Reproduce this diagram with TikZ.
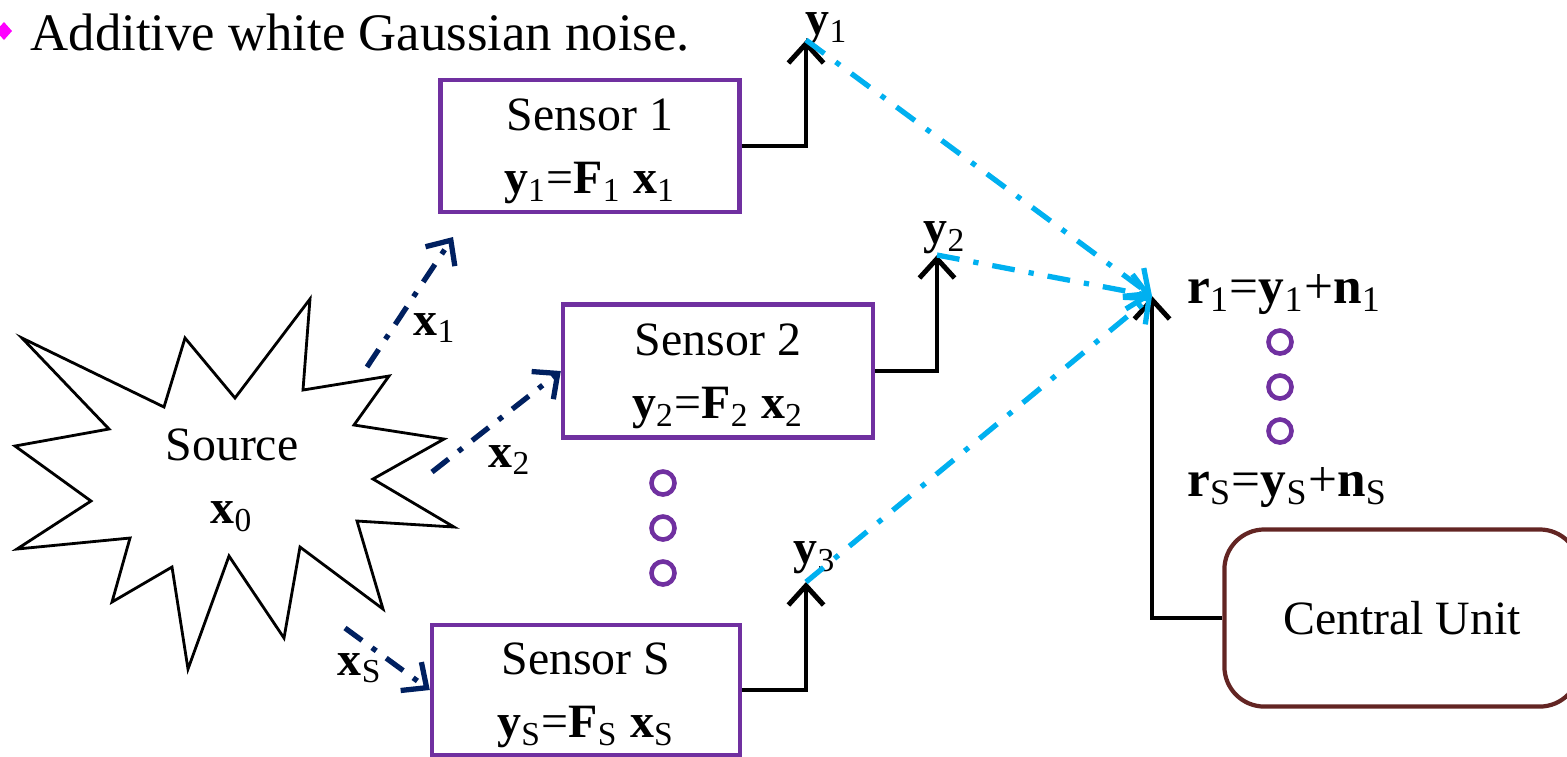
\documentclass[tikz,border=0pt]{standalone}
\usepackage{fontspec}
\setmainfont{Liberation Serif}
\usetikzlibrary{arrows.meta,positioning}
\definecolor{sensorline}{HTML}{7030A0}
\definecolor{relay}{HTML}{00B0F0}
\definecolor{signal}{HTML}{002060}
\definecolor{unitline}{HTML}{632523}
\definecolor{bulletcol}{HTML}{FF00FF}
\newcommand{\bv}[2]{\textbf{#1}\textsubscript{#2}}

\begin{document}
\begin{tikzpicture}[x=0.01cm, y=-0.01cm, font=\fontsize{13.6}{18}\selectfont, >={Straight Barb[length=5.5pt,width=10pt]}]
  \tikzset{
    sensor/.style={draw=sensorline, line width=1.2pt, minimum height=1.32cm, align=center, text depth=0pt},
    xlink/.style={->, signal, line width=1.5pt, dash pattern=on 6pt off 3.5pt on 1.5pt off 3.5pt},
    ylink/.style={->, relay, line width=1.5pt, dash pattern=on 6.5pt off 4pt on 1.5pt off 4pt},
    feed/.style={->, line width=1.4pt},
    gap/.style={circle, draw=sensorline, line width=1.3pt, minimum size=0.23cm, inner sep=0pt},
    rlabel/.style={anchor=west, font=\fontsize{14.6}{18}\selectfont}
  }
  \useasboundingbox (0,0) rectangle (1567,756);

  % bullet line
  \fill[bulletcol] (4,22) -- (12,31) -- (4,40) -- (-4,31) -- cycle;
  \node[anchor=base west, inner sep=0pt, font=\fontsize{15}{18}\selectfont] (title) at (30,50) {Additive white Gaussian noise.};

  % source burst
  \draw[line width=0.8pt] (22,338) -- (164,407) -- (185,338) -- (235,398) -- (310,299)
    -- (303,390) -- (389,376) -- (354,425) -- (444,439) -- (373,479) -- (454,527)
    -- (357,521) -- (383,609) -- (300,547) -- (284,638) -- (229,556) -- (188,669)
    -- (172,567) -- (112,602) -- (130,538) -- (17,549) -- (91,501) -- (15,446)
    -- (109,429) -- cycle;
  \node[align=center] (src) at (232,480) {Source\\\bv{x}{0}};

  % sensors
  \node[sensor, minimum width=2.99cm] (s1) at (590,146) {Sensor 1\\\bv{y}{1}=\bv{F}{1} \bv{x}{1}};
  \node[sensor, minimum width=3.1cm, minimum height=1.33cm] (s2) at (718,371) {Sensor 2\\\bv{y}{2}=\bv{F}{2} \bv{x}{2}};
  \node[sensor, minimum width=3.08cm, minimum height=1.3cm] (sS) at (586,690) {Sensor S\\\bv{y}{S}=\bv{F}{S} \bv{x}{S}};
  \node[draw=unitline, line width=1.2pt, rounded corners=0.4cm, minimum width=3.55cm, minimum height=1.77cm] (cu) at (1402,618) {Central Unit};

  \foreach \yy in {483,528,573} \node[gap] at (663,\yy) {};
  \foreach \yy in {342,387,431} \node[gap] at (1280,\yy) {};

  % links from the source
  \coordinate (srcA) at (367,367);
  \coordinate (srcB) at (432,472);
  \coordinate (srcC) at (345,628);
  \coordinate (s1in) at (453,237);
  \draw[xlink] (srcA) -- (s1in);
  \draw[xlink] (srcB) -- (s2.west);
  \draw[xlink] (srcC) -- (sS.west);
  \node (x1) at (435,328) {\bv{x}{1}};
  \node (x2) at (510,460) {\bv{x}{2}};
  \node (xS) at (360,668) {\bv{x}{S}};

  % sensor outputs
  \coordinate (y1tip) at (806,40);
  \coordinate (y2tip) at (937,255);
  \coordinate (y3tip) at (806,582);
  \coordinate (rtip) at (1152,296);
  \draw[feed] (s1.east) -| (y1tip);
  \draw[feed] (s2.east) -| (y2tip);
  \draw[feed] (sS.east) -| (y3tip);
  \draw[feed] (cu.west) -| (rtip);
  \node[inner sep=1pt] (y1) at (827,29) {\bv{y}{1}};
  \node (y2) at (945,238) {\bv{y}{2}};
  \node (y3) at (815,558) {\bv{y}{3}};

  \draw[ylink] (y1tip) -- (rtip);
  \draw[ylink] (y2tip) -- (rtip);
  \draw[ylink] (y3tip) -- (rtip);

  \node[rlabel] (r1) at (1175,295) {\bv{r}{1}=\bv{y}{1}+\bv{n}{1}};
  \node[rlabel] (rS) at (1175,488) {\bv{r}{S}=\bv{y}{S}+\bv{n}{S}};
\end{tikzpicture}
\end{document}
